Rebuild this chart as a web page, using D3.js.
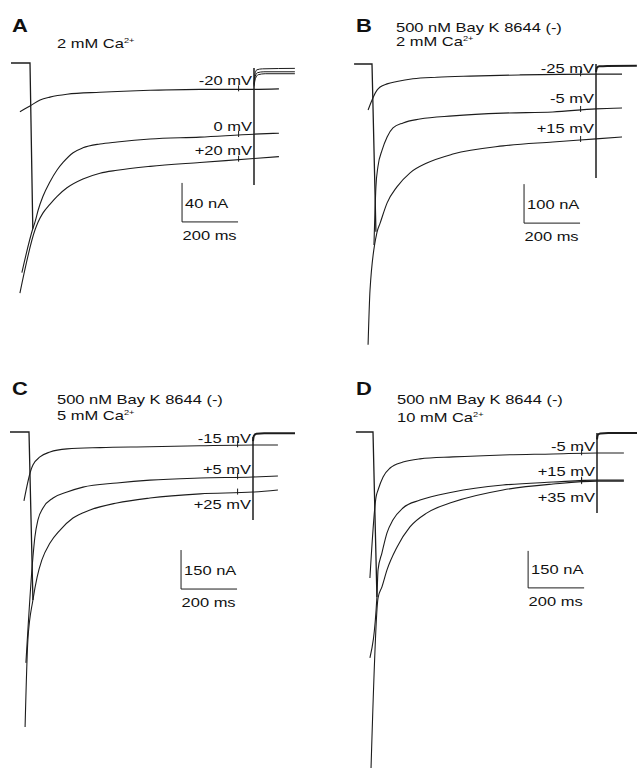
<!DOCTYPE html>
<html>
<head>
<meta charset="utf-8">
<script src="https://cdn.jsdelivr.net/npm/d3@7"></script>
<style>
  html, body { margin: 0; padding: 0; background: #fff; }
  text { font-family: "Liberation Sans", Arial, sans-serif; fill: #111; }
</style>
</head>
<body>
<div id="chart-container"></div>
<script>
// ---- data (time in ms from pulse onset, current in nA) ----
const panelLetters = ["A", "B", "C", "D"];
const drugText = ["", "500 nM Bay K 8644 (-)", "500 nM Bay K 8644 (-)", "500 nM Bay K 8644 (-)"];
const calciumText = ["2 mM Ca", "2 mM Ca", "5 mM Ca", "10 mM Ca"];
const scaleBarNA = [40, 100, 150, 150];
const scaleBarMS = 200;
const pulseMS = 800;
const tickMS = 745;
const holdStartMS = [-68, -64, -68, -61];

const voltageLabels = [
    ["-20 mV", "0 mV", "+20 mV"],
    ["-25 mV", "-5 mV", "+15 mV"],
    ["-15 mV", "+5 mV", "+25 mV"],
    ["-5 mV", "+15 mV", "+35 mV"]
];

// fitted / recorded currents for each test potential
const tracesA = [
    [[-36, -50], [0, -44], [36, -38], [71, -35], [132, -32], [250, -30], [429, -28], [607, -27], [800, -27], [889, -26.5]],
    [[-29, -215], [11, -169], [18, -163], [29, -151], [46, -137], [71, -122], [96, -110], [118, -102], [154, -92], [189, -87], [250, -83], [311, -81], [429, -78], [607, -76], [800, -73], [889, -72]],
    [[-36, -236], [18, -171], [29, -163], [46, -154], [71, -145], [96, -137], [132, -128], [189, -119], [250, -113], [311, -110], [429, -106], [607, -102], [800, -98], [889, -96]]
];
const tracesB = [
    [[-14, -118], [18, -67], [29, -59], [54, -51], [89, -45], [146, -38], [232, -34], [350, -31], [529, -28], [800, -26], [893, -26]],
    [[7, -464], [14, -315], [21, -264], [36, -221], [54, -187], [75, -164], [111, -151], [171, -141], [289, -133], [468, -126], [646, -123], [800, -115], [893, -113]],
    [[-14, -720], [-7, -579], [18, -431], [29, -408], [54, -356], [89, -315], [136, -279], [196, -254], [289, -231], [468, -210], [646, -200], [800, -192], [893, -187]]
];
const tracesC = [
    [[-18, -265], [7, -146], [14, -127], [39, -96], [75, -77], [136, -65], [254, -60], [432, -57], [611, -53], [800, -50], [889, -50]],
    [[-11, -888], [14, -482], [21, -404], [32, -338], [50, -292], [86, -254], [136, -231], [193, -212], [314, -196], [432, -185], [611, -177], [800, -173], [889, -169]],
    [[-14, -1135], [-4, -800], [14, -646], [29, -558], [46, -492], [75, -427], [111, -377], [157, -331], [218, -300], [314, -273], [432, -254], [611, -238], [800, -231], [889, -223]]
];
const tracesD = [
    [[-11, -592], [11, -263], [18, -235], [36, -182], [61, -146], [107, -122], [168, -109], [286, -101], [464, -93], [643, -89], [800, -85], [896, -85]],
    [[-11, -916], [14, -669], [18, -559], [32, -490], [50, -409], [71, -357], [107, -308], [168, -276], [286, -243], [464, -215], [643, -203], [800, -195], [896, -195]],
    [[-7, -1362], [18, -673], [32, -628], [50, -559], [86, -466], [132, -385], [193, -328], [286, -284], [464, -235], [643, -211], [800, -199], [896, -199]]
];

// onset of the pulse: holding current drops to the largest peak
const onsetPeak = [[10, -170], [14, -430], [14, -646], [14, -669]];
// tail current at the end of the pulse
const tailNA = [[-5, -125], [0, -292], [-19, -338], [-4, -328]];
// return to holding after the pulse
const postA = [
    [[800, -22], [803, -12], [810, -7], [830, -6], [946, -5.5]],
    [[800, -22], [804, -14], [812, -10], [835, -9], [946, -9]],
    [[800, -24], [805, -16], [815, -12], [840, -11], [946, -11]]
];
const postB = [[[800, -20], [803, -10], [812, -6], [840, -5], [946, -4.5]]];
const postC = [[[800, -35], [803, -15], [812, -7], [840, -5], [950, -5]]];
const postD = [[[800, -30], [803, -12], [812, -6], [840, -4], [943, -4]]];

// scale bar corner (ms, nA)
const scaleCorner = [[543, -163], [543, -408], [543, -604], [554, -632]];

const allTraces = [tracesA, tracesB, tracesC, tracesD];
const allPosts = [postA, postB, postC, postD];

// ---- layout (pixels) ----
const W = 637, H = 771;
const pxPerMS = 0.28;
const layout = [
    { x0: 30, y0: 63, barPx: 39, letter: [12, 32], drug: [57, 32], ca: [57, 48], labelDy: [-4, -3, -4] },
    { x0: 372, y0: 64, barPx: 39, letter: [356, 32], drug: [396, 32], ca: [396, 46], labelDy: [-1.5, -6, -6] },
    { x0: 29, y0: 432, barPx: 39, letter: [12, 395], drug: [57, 404], ca: [57, 420], labelDy: [-2, -3, 17] },
    { x0: 373, y0: 432, barPx: 37, letter: [356, 395], drug: [397, 404], ca: [397, 422], labelDy: [-2, -4, 21] }
];
const textScale = 1.32;
const ink = "#1c1c1c";

var svg = d3.select("#chart-container")
    .append("svg")
    .attr("width", W)
    .attr("height", H)
    .style("display", "block");

svg.append("rect").attr("width", W).attr("height", H).attr("fill", "#fff");

function addText(g, x, y, str, size, anchor, weight, sx) {
    return g.append("text")
        .attr("transform", `translate(${x},${y}) scale(${sx || textScale},1)`)
        .attr("text-anchor", anchor || "start")
        .style("font-size", size + "px")
        .style("font-weight", weight || "normal")
        .text(str);
}

// value of a trace at time t (for the small marks)
function valueAt(trace, t) {
    var i = d3.bisector(d => d[0]).left(trace, t);
    var a = trace[Math.max(0, i - 1)], b = trace[Math.min(trace.length - 1, i)];
    if (a[0] === b[0]) return a[1];
    return a[1] + (b[1] - a[1]) * (t - a[0]) / (b[0] - a[0]);
}

layout.forEach(function (p, k) {
    var g = svg.append("g");

    var x = d3.scaleLinear()
        .domain([0, pulseMS])
        .range([p.x0, p.x0 + pulseMS * pxPerMS]);

    var y = d3.scaleLinear()
        .domain([0, -scaleBarNA[k]])
        .range([p.y0, p.y0 + p.barPx]);

    var line = d3.line()
        .x(d => x(d[0]))
        .y(d => y(d[1]));

    var smooth = d3.line()
        .curve(d3.curveMonotoneX)
        .x(d => x(d[0]))
        .y(d => y(d[1]));

    // holding current and the onset drop
    g.append("path")
        .datum([[holdStartMS[k], 0], [0, 0], onsetPeak[k]])
        .attr("fill", "none")
        .attr("stroke", ink)
        .attr("stroke-width", 1.3)
        .attr("d", line);

    // current traces with their fits
    allTraces[k].forEach(function (tr) {
        g.append("path")
            .datum(tr)
            .attr("fill", "none")
            .attr("stroke", ink)
            .attr("stroke-width", 1.1)
            .attr("d", smooth);

        var v = valueAt(tr, tickMS);
        g.append("line")
            .attr("x1", x(tickMS)).attr("x2", x(tickMS))
            .attr("y1", y(v) - 4).attr("y2", y(v) + 2)
            .attr("stroke", ink)
            .attr("stroke-width", 1);
    });

    // tail at end of pulse
    g.append("path")
        .datum([[pulseMS, tailNA[k][0]], [pulseMS, tailNA[k][1]]])
        .attr("fill", "none")
        .attr("stroke", ink)
        .attr("stroke-width", 1.5)
        .attr("d", line);

    allPosts[k].forEach(function (pp) {
        g.append("path")
            .datum(pp)
            .attr("fill", "none")
            .attr("stroke", ink)
            .attr("stroke-width", allPosts[k].length > 1 ? 1 : 2)
            .attr("d", smooth);
    });

    // voltage labels
    allTraces[k].forEach(function (tr, j) {
        var endVal = valueAt(tr, pulseMS);
        addText(g, x(pulseMS) - 2, y(endVal) + p.labelDy[j], voltageLabels[k][j], 12.5, "end");
    });

    // panel letter and condition text
    addText(g, p.letter[0], p.letter[1], panelLetters[k], 18, "start", "bold", 1.22);
    if (drugText[k]) addText(g, p.drug[0], p.drug[1], drugText[k], 12.5, "start");
    var ca = addText(g, p.ca[0], p.ca[1], calciumText[k], 12.5, "start");
    ca.append("tspan")
        .attr("dy", -5)
        .style("font-size", "7px")
        .text("2+");

    // scale bar
    var c = scaleCorner[k];
    g.append("path")
        .datum([[c[0], c[1] + scaleBarNA[k]], c, [c[0] + scaleBarMS, c[1]]])
        .attr("fill", "none")
        .attr("stroke", ink)
        .attr("stroke-width", 1)
        .attr("d", line);
    addText(g, x(c[0]) + 3, y(c[1]) - 14, scaleBarNA[k] + " nA", 12.5, "start");
    addText(g, x(c[0]) + 0.5, y(c[1]) + 18, scaleBarMS + " ms", 12.5, "start");
});
</script>
</body>
</html>
